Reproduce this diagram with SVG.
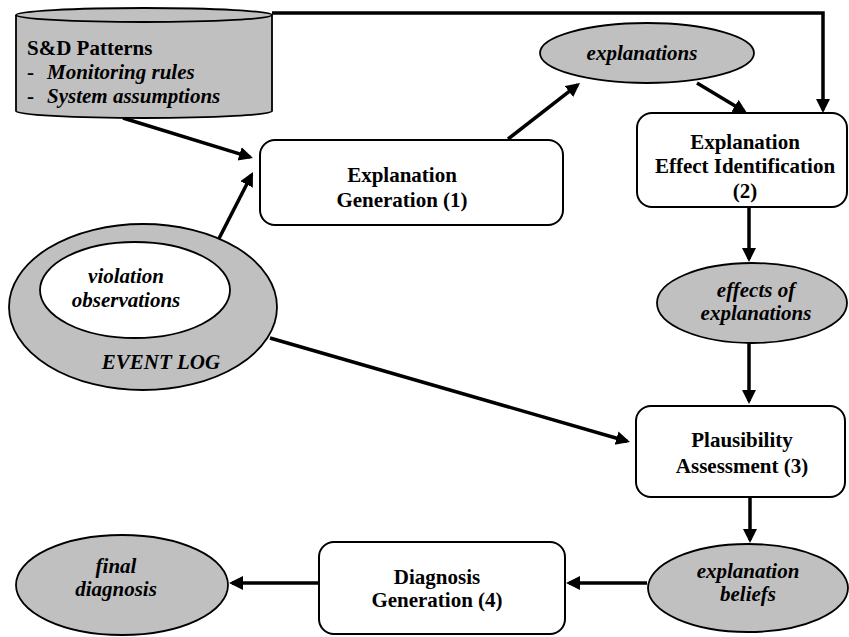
<svg xmlns="http://www.w3.org/2000/svg" width="849" height="637" viewBox="0 0 849 637">
<style>
.box{fill:#fff;stroke:#000;stroke-width:2}
.gray{fill:#c0c0c0;stroke:#000;stroke-width:1.8}
.white{fill:#fff;stroke:#000;stroke-width:1.8}
.t{font-family:"Liberation Serif","Times New Roman",serif;font-size:21px;font-weight:bold;fill:#000}
.i{font-style:italic}
.c{text-anchor:middle}
.con{fill:none;stroke:#000;stroke-width:3.5}
</style>
<defs>
<marker id="ah" markerUnits="userSpaceOnUse" markerWidth="16" markerHeight="16" refX="11" refY="7" orient="auto">
<path d="M0,0 L14,7 L0,14 z" fill="#000"/>
</marker>
</defs>
<rect width="849" height="637" fill="#fff"/>
<g id="connectors">
<path class="con" d="M123,118 L250.1,157.1" marker-end="url(#ah)"/>
<path class="con" d="M208,260 L251.6,174.7" marker-end="url(#ah)"/>
<path class="con" d="M508,139 L577.6,84.8" marker-end="url(#ah)"/>
<path class="con" d="M697,83 L744.4,111.5" marker-end="url(#ah)"/>
<path class="con" d="M272,13 H823 V110" marker-end="url(#ah)"/>
<path class="con" d="M749,207 V259" marker-end="url(#ah)"/>
<path class="con" d="M749,343 V401" marker-end="url(#ah)"/>
<path class="con" d="M270,338 L627.1,441.2" marker-end="url(#ah)"/>
<path class="con" d="M750,497 V540" marker-end="url(#ah)"/>
<path class="con" d="M647,583 H569" marker-end="url(#ah)"/>
<path class="con" d="M319,583 H232" marker-end="url(#ah)"/>
</g>
<g id="sd-patterns" font-family="'Liberation Serif', 'Times New Roman', serif">
<path class="gray" d="M16,15 V111 A128,7 0 0 0 272,111 V15"/>
<ellipse class="gray" cx="144" cy="15" rx="128" ry="7"/>
<text class="t" x="27" y="55">S&amp;D Patterns</text>
<text class="t" x="27" y="79">- <tspan x="47" class="i">Monitoring rules</tspan></text>
<text class="t" x="27" y="103">- <tspan x="47" class="i">System assumptions</tspan></text>
</g>
<g id="event-log">
<ellipse class="gray" cx="143" cy="307" rx="134" ry="83"/>
<ellipse class="white" cx="135" cy="290" rx="95" ry="48"/>
<text class="t i c" x="126" y="283">violation</text>
<text class="t i c" x="126" y="307">observations</text>
<text class="t i c" x="161" y="369">EVENT LOG</text>
</g>
<g id="explanation-generation">
<rect class="box" x="260" y="140" width="303" height="85" rx="15"/>
<text class="t c" x="402" y="182">Explanation</text>
<text class="t c" x="402" y="207">Generation (1)</text>
</g>
<g id="explanations">
<ellipse class="gray" cx="647" cy="53" rx="107" ry="30"/>
<text class="t i c" x="642" y="60">explanations</text>
</g>
<g id="effect-identification">
<rect class="box" x="637" y="113" width="210" height="94" rx="15"/>
<text class="t c" x="745" y="149">Explanation</text>
<text class="t c" x="745" y="173">Effect Identification</text>
<text class="t c" x="745" y="198">(2)</text>
</g>
<g id="effects">
<ellipse class="gray" cx="752" cy="303" rx="95" ry="40"/>
<text class="t i c" x="756" y="297">effects of</text>
<text class="t i c" x="756" y="320">explanations</text>
</g>
<g id="plausibility">
<rect class="box" x="636" y="406" width="209" height="91" rx="15"/>
<text class="t c" x="742" y="447">Plausibility</text>
<text class="t c" x="742" y="473">Assessment (3)</text>
</g>
<g id="beliefs">
<ellipse class="gray" cx="748" cy="588" rx="100" ry="44"/>
<text class="t i c" x="748" y="578">explanation</text>
<text class="t i c" x="748" y="601">beliefs</text>
</g>
<g id="diagnosis-generation">
<rect class="box" x="319" y="542" width="246" height="92" rx="15"/>
<text class="t c" x="437" y="584">Diagnosis</text>
<text class="t c" x="437" y="607">Generation (4)</text>
</g>
<g id="final-diagnosis">
<ellipse class="gray" cx="122" cy="585" rx="106" ry="50"/>
<text class="t i c" x="116" y="573">final</text>
<text class="t i c" x="116" y="596">diagnosis</text>
</g>
</svg>
